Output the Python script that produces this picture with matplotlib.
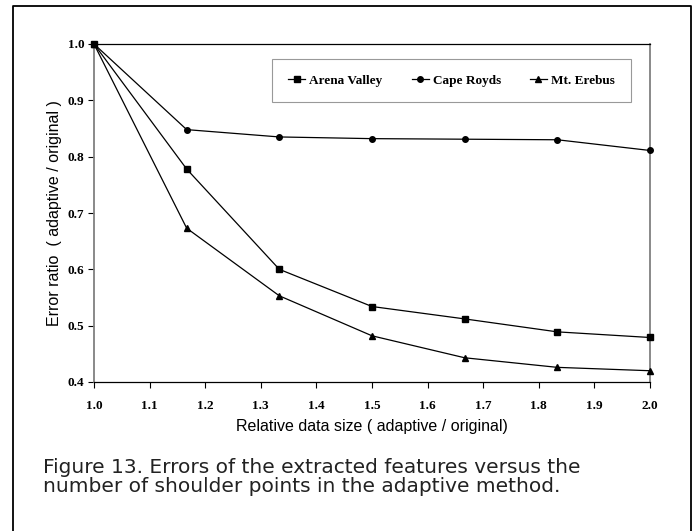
import matplotlib
matplotlib.use("Agg")
import matplotlib.pyplot as plt
from matplotlib.lines import Line2D

# Data
x_values = [1.0, 1.1667, 1.3333, 1.5, 1.6667, 1.8333, 2.0]
arena_valley = [1.0, 0.778, 0.600, 0.534, 0.512, 0.489, 0.479]
cape_royds = [1.0, 0.848, 0.835, 0.832, 0.831, 0.830, 0.811]
mt_erebus = [1.0, 0.673, 0.553, 0.482, 0.443, 0.426, 0.420]
series_names = ["Arena Valley", "Cape Royds", "Mt. Erebus"]
x_ticks = [1.0, 1.1, 1.2, 1.3, 1.4, 1.5, 1.6, 1.7, 1.8, 1.9, 2.0]
y_ticks = [0.4, 0.5, 0.6, 0.7, 0.8, 0.9, 1.0]
caption = ("Figure 13. Errors of the extracted features versus the\n"
           "number of shoulder points in the adaptive method.")

W, H = 695, 531
fig = plt.figure(figsize=(W / 100, H / 100), dpi=100)
ax = fig.add_axes([94 / W, 1 - 382 / H, (650 - 94) / W, (382 - 44) / H])

serif = "Liberation Serif"
ax.plot(x_values, arena_valley, color="black", lw=0.9, marker="s", ms=4.2,
        label=series_names[0], clip_on=False, zorder=3)
ax.plot(x_values, cape_royds, color="black", lw=0.9, marker="o", ms=4.0,
        label=series_names[1], clip_on=False, zorder=3)
ax.plot(x_values, mt_erebus, color="black", lw=0.9, marker="^", ms=5.0,
        label=series_names[2], clip_on=False, zorder=3)

ax.set_xlim(1.0, 2.0)
ax.set_ylim(0.4, 1.0)
ax.set_xticks(x_ticks)
ax.set_yticks(y_ticks)
ax.set_xticklabels([f"{v:.1f}" for v in x_ticks], fontfamily=serif,
                   fontweight="bold", fontsize=9.5)
ax.set_yticklabels([f"{v:.1f}" for v in y_ticks], fontfamily=serif,
                   fontweight="bold", fontsize=9.5)
ax.tick_params(axis="x", direction="out", length=4, width=0.8, pad=9)
ax.tick_params(axis="y", direction="out", length=4, width=0.8, pad=3)

for side in ["left", "right"]:
    ax.spines[side].set_color("#808080")
    ax.spines[side].set_linewidth(1.3)
for side in ["top", "bottom"]:
    ax.spines[side].set_color("black")
    ax.spines[side].set_linewidth(0.9)

ax.set_xlabel("Relative data size ( adaptive / original)",
              fontfamily="Liberation Sans", fontsize=11.5, labelpad=5)
ax.set_ylabel("Error ratio  ( adaptive / original )",
              fontfamily="Liberation Sans", fontsize=11.5, labelpad=4)

leg = ax.legend(loc="center", bbox_to_anchor=(451.5 / W, 1 - 80.5 / H),
                bbox_transform=fig.transFigure, ncol=3, frameon=True,
                fancybox=False, edgecolor="#808080", handlelength=1.3,
                handletextpad=0.3, columnspacing=2.2, borderpad=1.2,
                prop={"family": serif, "weight": "bold", "size": 9.5})
leg.get_frame().set_linewidth(0.8)

fig.text(43 / W, 1 - 458 / H, caption, fontfamily="DejaVu Sans",
         fontsize=14.5, va="top", ha="left", linespacing=0.98,
         color="#222222")

# Outer frame (no bottom edge)
fx0, fx1, fy = 13 / W, 691 / W, 1 - 6 / H
fig.add_artist(Line2D([fx0, fx0, fx1, fx1], [0, fy, fy, 0],
                      transform=fig.transFigure, color="black", lw=1.3))

fig.savefig("out.png", dpi=100)
